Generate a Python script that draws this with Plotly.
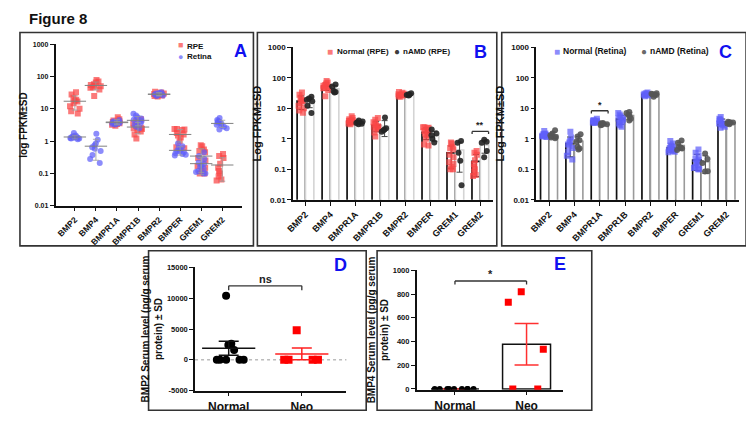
import numpy as np
import plotly.graph_objects as go

# ---------------- data ----------------
genes = ["BMP2", "BMP4", "BMPR1A", "BMPR1B", "BMPR2", "BMPER", "GREM1", "GREM2"]

rpe_normal = [
    [33, 28, 22, 19, 18, 17, 15, 12, 10, 8.5, 7.2],
    [78, 70, 65, 58, 55, 52, 50, 47, 45, 40, 25],
    [5.5, 4.8, 4.4, 4.1, 3.9, 3.8, 3.6, 3.5, 3.4, 3.2, 3.0, 3.7],
    [4.8, 4.2, 3.5, 3.0, 2.8, 2.6, 2.5, 2.4, 2.2, 2.0, 1.6, 1.2],
    [34, 32, 30, 29, 28, 27, 27, 26, 25, 24],
    [2.4, 2.4, 2.3, 2.2, 1.8, 1.6, 1.5, 1.3, 1.0, 0.65, 0.6],
    [0.75, 0.7, 0.55, 0.5, 0.45, 0.3, 0.25, 0.17, 0.15, 0.12, 0.1, 0.1],
    [0.4, 0.35, 0.3, 0.2, 0.15, 0.12, 0.1, 0.08, 0.065, 0.06],
]
retina_normal = [
    [1.8, 1.5, 1.4, 1.35, 1.3, 1.3, 1.25, 1.2, 1.2, 1.15, 1.4, 1.3],
    [1.7, 1.1, 0.85, 0.75, 0.65, 0.58, 0.5, 0.37, 0.28, 0.21],
    [4.5, 4.1, 3.9, 3.8, 3.7, 3.6, 3.5, 3.4, 3.3, 3.8, 3.6],
    [7.0, 6.2, 5.5, 5.0, 4.6, 4.2, 4.0, 3.6, 3.2, 2.8, 2.5],
    [33, 31, 30, 29, 28, 27, 26, 25],
    [0.85, 0.7, 0.6, 0.55, 0.5, 0.5, 0.45, 0.42, 0.4, 0.38, 0.36],
    [0.45, 0.35, 0.28, 0.22, 0.2, 0.18, 0.16, 0.14, 0.12, 0.11, 0.1, 0.1],
    [5.2, 4.5, 4.2, 4.0, 3.8, 3.5, 3.2, 3.0, 2.8, 2.5, 2.3],
]
rpe_namd = [
    [24, 21, 19, 17, 12, 7],
    [60, 52, 37, 34, 33],
    [4.0, 3.7, 3.5, 3.3, 3.1, 3.0],
    [5.0, 2.2, 2.0, 1.9, 1.7],
    [31, 29, 28, 27, 26],
    [2.0, 1.5, 1.3, 1.0, 0.75],
    [0.84, 0.74, 0.35, 0.19, 0.03],
    [0.93, 0.8, 0.74, 0.4, 0.25],
]
retina_namd = [
    [1.9, 1.5, 1.3, 1.15, 1.1, 1.05],
    [1.4, 1.2, 0.9, 0.8, 0.55, 0.45, 0.48],
    [3.3, 3.2, 3.1, 3.0, 2.9, 2.8],
    [7.5, 7.0, 6.0, 5.5, 4.5, 4.0],
    [31, 30, 29, 28, 27, 24],
    [0.88, 0.74, 0.55, 0.48, 0.43, 0.52],
    [0.33, 0.22, 0.16, 0.087, 0.085],
    [3.6, 3.5, 3.4, 3.3, 3.2, 3.0],
]
log_ticks = [0.01, 0.1, 1, 10, 100, 1000]
log_ticktext = ["0.01", "0.1", "1", "10", "100", "1000"]

serum_groups = ["Normal", "Neo"]
bmp2_normal = [10400, 2400, 2600, 1600, 0, 0, 0, 0, 0]
bmp2_neo = [4800, 0, 0, 0, 0]
bmp4_normal = [0, 0, 0, 0, 0, 0, 0, 0, 0]
bmp4_neo = [820, 730, 335, 0, 0]
d_ticks = [-5000, 0, 5000, 10000, 15000]
e_ticks = [0, 200, 400, 600, 800, 1000]

# ---------------- helpers ----------------
# the page body adds an 8px margin, so the figure is 8px smaller and all
# layout positions below are given in window pixels, shifted by that margin
OFF = 8
W, H = 754 - OFF, 426 - OFF
def px(x): return (x - OFF) / W
def py(y): return 1 - (y - OFF) / H

FONT = "Liberation Sans, Arial, sans-serif"
RED = "rgba(250,70,70,0.72)"
BLUE = "rgba(95,95,250,0.72)"
DARK = "rgba(35,35,35,0.9)"
GRAY = "rgba(85,85,85,0.9)"
PANEL_BLUE = "#1010F0"

def mean(v): return float(np.mean(v))
def sd(v): return float(np.std(v, ddof=1))
def sem(v): return float(np.std(v, ddof=1) / np.sqrt(len(v)))

fig = go.Figure()

def flat(cats, groups):
    xs, ys = [], []
    for c, vals in zip(cats, groups):
        xs += [c] * len(vals)
        ys += list(vals)
    return xs, ys

def points(ax, cats, groups, color, symbol, size, og, jitter, name):
    xs, ys = flat(cats, groups)
    fig.add_trace(go.Box(
        x=xs, y=ys, xaxis="x" + ax, yaxis="y" + ax, name=name,
        boxpoints="all", jitter=jitter, pointpos=0,
        fillcolor="rgba(0,0,0,0)", line=dict(width=0, color="rgba(0,0,0,0)"),
        marker=dict(color=color, symbol=symbol, size=size, line=dict(width=0)),
        offsetgroup=og, showlegend=False, hoverinfo="skip"))

# ---------------- panel A ----------------
points("", genes, rpe_normal, RED, "square", 6, "a", 0.85, "RPE")
points("", genes, retina_normal, BLUE, "circle", 6, "a", 0.85, "Retina")
for grp in (rpe_normal, retina_normal):
    fig.add_trace(go.Scatter(
        x=genes, y=[mean(v) for v in grp], mode="markers", xaxis="x", yaxis="y",
        marker=dict(symbol="line-ew-open", size=16, color="#808080", line=dict(width=1, color="#808080")),
        error_y=dict(type="data", array=[sd(v) for v in grp], color="#9a9a9a", thickness=0.8, width=3),
        showlegend=False, hoverinfo="skip"))

# ---------------- panels B & C ----------------
def bar_panel(ax, normal, namd, ncol, acol, nline, aline, nname, aname):
    fig.add_trace(go.Bar(
        x=genes, y=[mean(v) for v in normal], xaxis="x" + ax, yaxis="y" + ax, name=nname,
        marker=dict(color="white", line=dict(color=nline, width=1.7)),
        error_y=dict(type="data", array=[sd(v) for v in normal], color="#222", thickness=1, width=3),
        offsetgroup="n", showlegend=False, hoverinfo="skip"))
    fig.add_trace(go.Bar(
        x=genes, y=[mean(v) for v in namd], xaxis="x" + ax, yaxis="y" + ax, name=aname,
        marker=dict(color="white", line=dict(color=aline, width=1.6)),
        error_y=dict(type="data", array=[sd(v) for v in namd], color="#444", thickness=1, width=3),
        offsetgroup="m", showlegend=False, hoverinfo="skip"))
    points(ax, genes, normal, ncol, "square", 6, "n", 0.8, nname)
    points(ax, genes, namd, acol, "circle", 6, "m", 0.8, aname)

bar_panel("2", rpe_normal, rpe_namd, RED, DARK, "#111", "#d4d4d4", "Normal (RPE)", "nAMD (RPE)")
bar_panel("3", retina_normal, retina_namd, BLUE, GRAY, "#111", "#9a9a9a", "Normal (Retina)", "nAMD (Retina)")

# ---------------- panel D ----------------
points("4", ["Normal"], [bmp2_normal], "#000", "circle", 8, "d", 0.85, "Normal")
points("4", ["Neo"], [bmp2_neo], "#FF0000", "square", 8, "d", 0.85, "Neo")
for grp, cat, col in ((bmp2_normal, "Normal", "#111"), (bmp2_neo, "Neo", "#FF2020")):
    fig.add_trace(go.Scatter(
        x=[cat], y=[mean(grp)], mode="markers", xaxis="x4", yaxis="y4",
        marker=dict(symbol="line-ew-open", size=38, color=col, line=dict(width=1.5, color=col)),
        error_y=dict(type="data", array=[sem(grp)], color=col, thickness=1.5, width=10),
        showlegend=False, hoverinfo="skip"))

# ---------------- panel E ----------------
fig.add_trace(go.Bar(
    x=serum_groups, y=[mean(bmp4_normal), mean(bmp4_neo)], xaxis="x5", yaxis="y5",
    marker=dict(color="white", line=dict(color="#111", width=1.5)),
    error_y=dict(type="data", array=[sem(bmp4_normal), sem(bmp4_neo)], color="#FF3030", thickness=1.5, width=12),
    showlegend=False, hoverinfo="skip"))
points("5", ["Normal"], [bmp4_normal], "#000", "circle", 6, "e", 1.0, "Normal")
points("5", ["Neo"], [bmp4_neo], "#FF0000", "square", 7, "e", 0.9, "Neo")

# ---------------- axes ----------------
def xax(dom, cats, size=9, rng=None, angle=-45):
    d = dict(domain=dom, type="category", categoryorder="array", categoryarray=cats,
             showline=True, linecolor="#111", linewidth=1.5, ticks="outside", ticklen=4,
             tickwidth=1.2, tickcolor="#111", showgrid=False, zeroline=False,
             tickangle=angle, tickfont=dict(family=FONT, size=size, color="#111", weight="bold"))
    if rng is not None:
        d["range"] = rng
    return d

def yax(dom, anchor, title, tsize, ticksize, standoff=3, **kw):
    d = dict(domain=dom, anchor=anchor, showline=True, linecolor="#111", linewidth=1.5,
             ticks="outside", ticklen=4, tickwidth=1.2, tickcolor="#111", showgrid=False,
             zeroline=False, tickfont=dict(family=FONT, size=ticksize, color="#111", weight="bold"),
             title=dict(text=title, font=dict(family=FONT, size=tsize, color="#111", weight="bold"),
                        standoff=standoff))
    d.update(kw)
    return d

logkw = dict(type="log", range=[-2, 3], tickvals=log_ticks, ticktext=log_ticktext)

fig.update_layout(
    xaxis=dict(**xax([px(48), px(236)], genes, 8.5), anchor="y"),
    yaxis=yax([py(206), py(41)], "x", "log FPKM±SD", 10, 7, 3, **logkw),
    xaxis2=dict(**xax([px(288), px(490)], genes, 9), anchor="y2"),
    yaxis2=yax([py(200), py(44)], "x2", "Log FPKM±SD", 11, 8, 4, **logkw),
    xaxis3=dict(**xax([px(534), px(739)], genes, 9), anchor="y3"),
    yaxis3=yax([py(200), py(44)], "x3", "Log FPKM±SD", 11, 8, 4, **logkw),
    xaxis4=dict(**xax([px(189), px(342)], serum_groups, 12, [-0.46, 1.61], 0), anchor="y4"),
    yaxis4=yax([py(395), py(269)], "x4", "BMP2 Serum level (pg/g serum<br>protein) ± SD", 10, 7.5, 2,
               range=[-5000, 15000], tickvals=d_ticks, ticktext=[str(v) for v in d_ticks]),
    xaxis5=dict(**xax([px(413), px(561)], serum_groups, 12, [-0.535, 1.51], 0), anchor="y5"),
    yaxis5=yax([py(394), py(272)], "x5", "BMP4 Serum level (pg/g serum<br>protein) ± SD", 10, 7.5, 2,
               range=[-6, 1000], tickvals=e_ticks, ticktext=[str(v) for v in e_ticks]),
)

# ---------------- layout ----------------
shapes = []
for (x0, y0, x1, y1) in [(12, 29, 248, 247), (252, 29, 494, 247), (499, 29, 746, 247),
                         (142, 252, 362, 415), (373, 252, 590, 415)]:
    shapes.append(dict(type="rect", xref="paper", yref="paper", x0=px(x0), x1=px(x1),
                       y0=py(y0), y1=py(y1), line=dict(color="#333", width=1.6)))

def bracket(ax, xa, xb, y, drop):
    ln = dict(color="#333", width=1.3)
    shapes.append(dict(type="line", xref="x" + ax, yref="y" + ax, x0=xa, x1=xb, y0=y, y1=y, line=ln))
    shapes.append(dict(type="line", xref="x" + ax, yref="y" + ax, x0=xa, x1=xa, y0=y, y1=drop, line=ln))
    shapes.append(dict(type="line", xref="x" + ax, yref="y" + ax, x0=xb, x1=xb, y0=y, y1=drop, line=ln))

i_grem2 = genes.index("GREM2")
i_bmpr1a = genes.index("BMPR1A")
bracket("2", i_grem2 - 0.33, i_grem2 + 0.33, 1.75, 1.45)
bracket("3", i_bmpr1a - 0.33, i_bmpr1a + 0.33, 8.3, 6.8)
bracket("4", 0, 1, 12000, 11300)
bracket("5", 0, 1, 910, 880)
shapes.append(dict(type="line", xref="x4 domain", yref="y4", x0=0, x1=1, y0=0, y1=0,
                   line=dict(color="#999", width=1, dash="dot"), layer="below"))

def txt(text, x, y, size, color="#111", xanchor="center", weight="bold", xref="paper", yref="paper",
        yanchor="middle", align="center"):
    return dict(text=text, xref=xref, yref=yref, x=x, y=y, xanchor=xanchor, yanchor=yanchor, align=align,
                showarrow=False, borderpad=0,
                font=dict(family=FONT, size=size, color=color, weight=weight))

annotations = [
    txt("Figure 8", px(20), py(15), 15, xanchor="left"),
    txt("**", i_grem2, np.log10(1.75), 9, "#222", xref="x2", yref="y2", yanchor="bottom"),
    txt("*", i_bmpr1a, np.log10(8.3), 9, "#222", xref="x3", yref="y3", yanchor="bottom"),
    txt("ns", 0.5, 12000, 11, "#222", xref="x4", yref="y4", yanchor="bottom"),
    txt("*", 0.5, 910, 11, "#222", xref="x5", yref="y5", yanchor="bottom"),
]
for lab, x, y in [("A", 235, 48), ("B", 478, 49), ("C", 725, 49), ("D", 336, 267), ("E", 558, 266)]:
    annotations.append(txt(lab, px(x), py(y), 18, PANEL_BLUE))

# legend of panel A: stacked entries (glyph column + label column)
annotations.append(txt("<span style='color:%s'>■</span><br><span style='color:%s'>●</span>" % (RED, BLUE),
                       px(174), py(48), 9, weight="normal"))
annotations.append(txt("RPE<br>Retina", px(180), py(48), 8, xanchor="left", align="left"))

# legends of panels B and C (single row)
legend_items = [
    ("■", RED, "Normal (RPE)", 325, 331, 48, 8),
    ("●", DARK, "nAMD (RPE)", 393, 398, 48, 8),
    ("■", BLUE, "Normal (Retina)", 555, 560, 48, 8.5),
    ("●", GRAY, "nAMD (Retina)", 643, 648, 48, 8.5),
]
for glyph, col, label, mx, tx, y, fs in legend_items:
    annotations.append(txt(glyph, px(mx), py(y), 10, col, weight="normal"))
    annotations.append(txt(label, px(tx), py(y), fs, xanchor="left"))

fig.update_layout(
    width=W, height=H, margin=dict(l=0, r=0, t=0, b=0),
    paper_bgcolor="white", plot_bgcolor="rgba(0,0,0,0)",
    font=dict(family=FONT, color="#111"), showlegend=False,
    barmode="group", bargap=0.33, bargroupgap=0,
    boxmode="group", boxgap=0.33, boxgroupgap=0,
    shapes=shapes, annotations=annotations,
)

fig.write_html("out.html")
